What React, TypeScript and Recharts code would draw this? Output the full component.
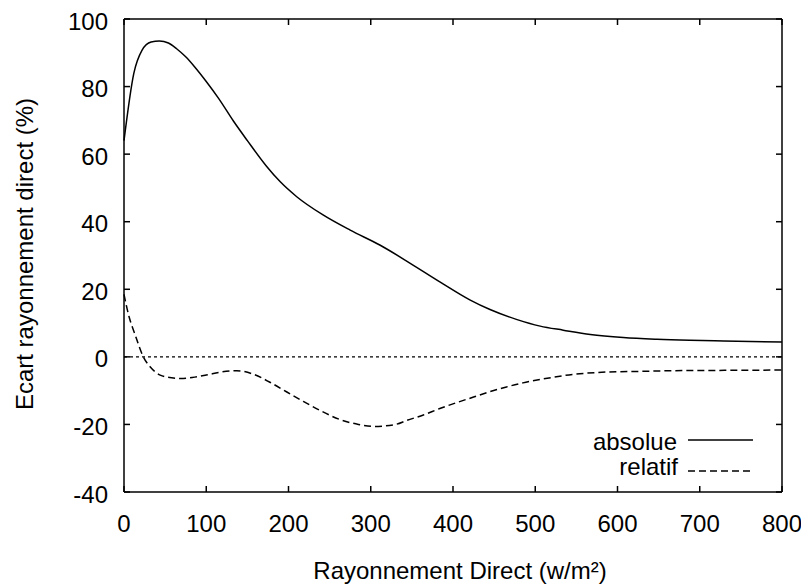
import { LineChart, Line, XAxis, YAxis, ReferenceLine, Legend } from 'recharts';

const xTicks = [0, 100, 200, 300, 400, 500, 600, 700, 800];
const yTicks = [-40, -20, 0, 20, 40, 60, 80, 100];

const xAbsolue = [0, 12, 22, 33, 43, 54, 64, 75, 86, 100, 115, 133, 150, 173, 190, 210, 242, 275, 311, 348, 384, 421, 445, 477, 506, 534, 567, 607, 648, 688, 729, 800];
const yAbsolue = [64, 84, 90.8, 93.2, 93.5, 92.9, 91.2, 88.8, 85.8, 81.5, 76.5, 69.8, 64, 56.5, 51.8, 47.4, 42, 37.5, 33.1, 27.7, 22.2, 16.8, 14, 11.1, 9.1, 7.9, 6.6, 5.7, 5.2, 4.9, 4.7, 4.4];

const xRelatif = [0, 6, 13, 23.5, 32, 44, 58, 72, 86, 100, 118, 137, 157, 178, 198, 218, 238, 262, 285, 305, 330, 344, 364, 384, 405, 425, 445, 465, 485, 506, 546, 587, 628, 668, 730, 800];
const yRelatif = [18.5, 12, 6.9, 0, -3, -5.4, -6.2, -6.4, -6.0, -5.4, -4.5, -4.1, -5.1, -7.6, -10.4, -13.2, -15.8, -18.5, -20, -20.6, -20, -18.8, -17.2, -15.3, -13.5, -11.9, -10.3, -8.9, -7.7, -6.7, -5.2, -4.5, -4.3, -4.1, -4.0, -3.9];

const absolue = xAbsolue.map((x, i) => ({ x, v: yAbsolue[i] }));
const relatif = xRelatif.map((x, i) => ({ x, v: yRelatif[i] }));

const font = '"Liberation Sans", Arial, sans-serif';
const axisStroke = { stroke: '#000', strokeWidth: 1.5 };
const TICK = 6;
const XMARGIN = 23;
const YMARGIN = 16;

// ticks point inward, so the tick line is drawn by hand next to the label
const BottomTick = ({ x, y, payload }: any) => (
  <g>
    <line x1={x} x2={x} y1={y - XMARGIN} y2={y - XMARGIN - TICK} stroke="#000" strokeWidth={1.5} />
    <text x={x} y={y + 17} textAnchor="middle" fill="#000" fontSize={24} fontFamily={font}>
      {payload.value}
    </text>
  </g>
);

const LeftTick = ({ x, y, payload }: any) => (
  <g>
    <line x1={x + YMARGIN} x2={x + YMARGIN + TICK} y1={y} y2={y} stroke="#000" strokeWidth={1.5} />
    <text x={x} y={y + 10.5} textAnchor="end" fill="#000" fontSize={24} fontFamily={font}>
      {payload.value}
    </text>
  </g>
);

const TopTick = ({ x, y }: any) => (
  <line x1={x} x2={x} y1={y} y2={y + TICK} stroke="#000" strokeWidth={1.5} />
);

const RightTick = ({ x, y }: any) => (
  <line x1={x} x2={x - TICK} y1={y} y2={y} stroke="#000" strokeWidth={1.5} />
);

function LegendBox() {
  return (
    <svg width={200} height={60} style={{ fontFamily: font, fontSize: 24 }}>
      <text x={109} y={22} textAnchor="end" fill="#000">absolue</text>
      <line x1={120} x2={185} y1={12} y2={12} stroke="#000" strokeWidth={1.5} />
      <text x={110} y={47} textAnchor="end" fill="#000">relatif</text>
      <line x1={120} x2={185} y1={43} y2={43} stroke="#000" strokeWidth={1.5} strokeDasharray="7 4" />
    </svg>
  );
}

export default function App() {
  return (
    <div style={{ width: 801, height: 578, fontFamily: font }}>
      <LineChart width={801} height={578} margin={{ top: 10, right: 26, bottom: 34, left: 0 }}>
        <XAxis
          dataKey="x"
          type="number"
          domain={[0, 800]}
          ticks={xTicks}
          interval={0}
          height={60}
          tickSize={0}
          tickMargin={XMARGIN}
          tick={BottomTick}
          tickLine={false}
          axisLine={axisStroke}
          label={() => (
            <text x={452} y={571} textAnchor="middle" fill="#000" fontSize={24} fontFamily={font}>
              Rayonnement Direct (w/m²)
            </text>
          )}
        />
        <XAxis
          xAxisId="top"
          orientation="top"
          dataKey="x"
          type="number"
          domain={[0, 800]}
          ticks={xTicks}
          interval={0}
          height={1}
          tickSize={0}
          tickMargin={0}
          tick={TopTick}
          tickLine={false}
          axisLine={axisStroke}
        />
        <YAxis
          type="number"
          domain={[-40, 100]}
          ticks={yTicks}
          interval={0}
          width={116}
          tickSize={0}
          tickMargin={YMARGIN}
          tick={LeftTick}
          tickLine={false}
          axisLine={axisStroke}
          label={() => (
            <text
              x={25}
              y={246}
              transform="rotate(-90, 25, 246)"
              textAnchor="middle"
              fill="#000"
              fontSize={24}
              fontFamily={font}
            >
              Ecart rayonnement direct (%)
            </text>
          )}
        />
        <YAxis
          yAxisId="right"
          orientation="right"
          type="number"
          domain={[-40, 100]}
          ticks={yTicks}
          interval={0}
          width={1}
          tickSize={0}
          tickMargin={0}
          tick={RightTick}
          tickLine={false}
          axisLine={axisStroke}
        />
        <ReferenceLine y={0} stroke="#000" strokeWidth={1.2} strokeDasharray="3 3" />
        {/* invisible copy so the top and right axes have data and draw their ticks */}
        <Line
          xAxisId="top"
          yAxisId="right"
          data={absolue}
          dataKey="v"
          legendType="none"
          stroke="none"
          dot={false}
          activeDot={false}
          isAnimationActive={false}
        />
        <Line
          data={absolue}
          dataKey="v"
          name="absolue"
          type="monotone"
          stroke="#000"
          strokeWidth={1.5}
          dot={false}
          activeDot={false}
          isAnimationActive={false}
        />
        <Line
          data={relatif}
          dataKey="v"
          name="relatif"
          type="monotone"
          stroke="#000"
          strokeWidth={1.5}
          strokeDasharray="7 4"
          dot={false}
          activeDot={false}
          isAnimationActive={false}
        />
        <Legend
          layout="horizontal"
          verticalAlign="middle"
          align="center"
          content={() => <LegendBox />}
          wrapperStyle={{ left: 560, top: 420, width: 200, height: 60 }}
        />
      </LineChart>
    </div>
  );
}
